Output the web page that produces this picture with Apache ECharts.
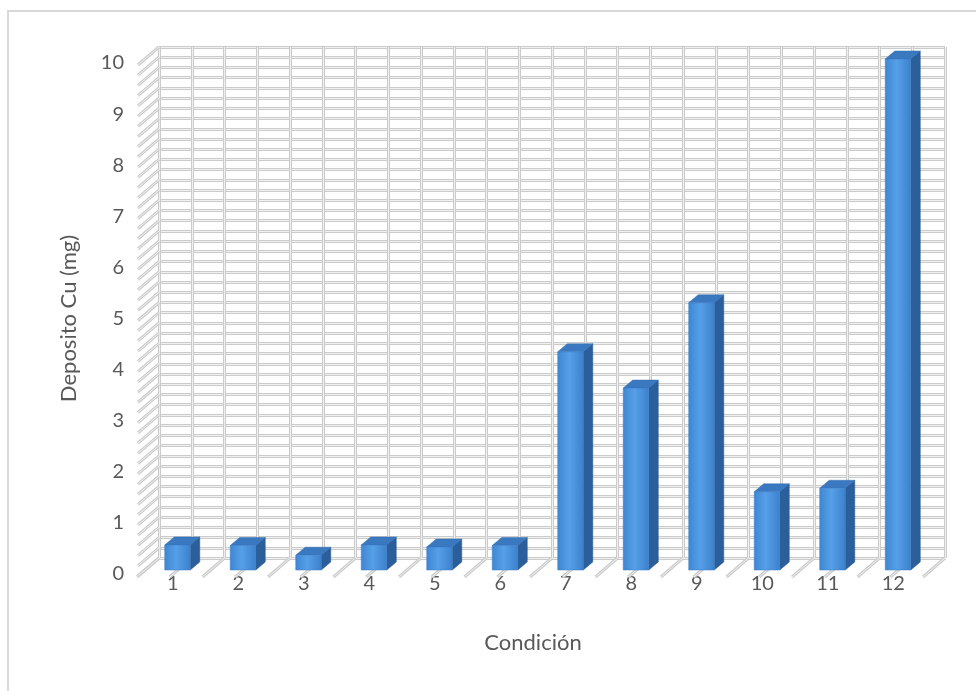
<!DOCTYPE html>
<html>
<head>
<meta charset="utf-8">
<script src="https://cdn.jsdelivr.net/npm/echarts@6/dist/echarts.min.js"></script>
<style>
  html, body { margin: 0; padding: 0; background: #ffffff; }
  #chart { width: 976px; height: 691px; }
</style>
</head>
<body>
<div id="chart"></div>
<script>
// Copper deposit per test condition
const categories = ['1', '2', '3', '4', '5', '6', '7', '8', '9', '10', '11', '12'];
const deposito = [0.49, 0.48, 0.29, 0.49, 0.45, 0.48, 4.27, 3.56, 5.23, 1.53, 1.60, 10.0];
const xAxisTitle = 'Condición';
const yAxisTitle = 'Deposito Cu (mg)';

// Depth of the 3D box in pixels (front plane -> back wall)
const DX = 19, DY = -16;
const FONT = 'Lato, "Liberation Sans", sans-serif';
const TEXT = '#595959';

const chart = echarts.init(document.getElementById('chart'), null, { renderer: 'canvas' });

// Gridline levels on the side wall follow the minor step of the value axis
const minorStep = 0.2;
const wallLevels = [];
for (let k = 0; k <= 50; k++) wallLevels.push([0, +(k * minorStep).toFixed(1)]);
const floorSteps = [];
for (let k = 0; k <= 24; k++) floorSteps.push([k, 0]);

function lineShape(x1, y1, x2, y2, w, c) {
  return { type: 'line', shape: { x1, y1, x2, y2 }, style: { stroke: c, lineWidth: w } };
}

const option = {
  backgroundColor: '#ffffff',
  animation: false,
  grid: [
    { left: 140, top: 63, width: 786, height: 511 },   // front plane
    { left: 159, top: 47, width: 786, height: 511 },   // back wall (double line, outer)
    { left: 159, top: 47, width: 786, height: 511 }    // back wall (double line, inner)
  ],
  xAxis: [
    {
      gridIndex: 0, type: 'category', data: categories,
      axisLine: { show: false }, axisTick: { show: false }, splitLine: { show: false },
      axisLabel: { color: TEXT, fontFamily: FONT, fontSize: 20, margin: 0 },
      name: xAxisTitle, nameLocation: 'middle', nameGap: 58,
      nameTextStyle: { color: TEXT, fontFamily: FONT, fontSize: 22 }
    },
    {
      gridIndex: 1, type: 'value', min: 0, max: 24, interval: 1,
      axisLine: { show: false }, axisTick: { show: false }, axisLabel: { show: false },
      splitLine: { show: true, lineStyle: { color: '#cbcbcb', width: 3 } }
    },
    {
      gridIndex: 2, type: 'value', min: 0, max: 24, interval: 1,
      axisLine: { show: false }, axisTick: { show: false }, axisLabel: { show: false },
      splitLine: { show: true, lineStyle: { color: '#f0f0f0', width: 1 } }
    }
  ],
  yAxis: [
    {
      gridIndex: 0, type: 'value', min: 0, max: 10, interval: 1,
      axisLine: { show: false }, axisTick: { show: false }, splitLine: { show: false },
      axisLabel: { color: TEXT, fontFamily: FONT, fontSize: 20, margin: 16 },
      name: yAxisTitle, nameLocation: 'middle', nameGap: 60, nameRotate: 90,
      nameTextStyle: { color: TEXT, fontFamily: FONT, fontSize: 22 }
    },
    {
      gridIndex: 1, type: 'value', min: 0, max: 10, interval: minorStep,
      axisLine: { show: false }, axisTick: { show: false }, axisLabel: { show: false },
      splitLine: { show: true, lineStyle: { color: '#cbcbcb', width: 3 } }
    },
    {
      gridIndex: 2, type: 'value', min: 0, max: 10, interval: minorStep,
      axisLine: { show: false }, axisTick: { show: false }, axisLabel: { show: false },
      splitLine: { show: true, lineStyle: { color: '#f0f0f0', width: 1 } }
    }
  ],
  graphic: [
    {
      type: 'polyline', silent: true,
      shape: { points: [[8, 700], [8, 11], [990, 11]] },
      style: { stroke: '#d9d9d9', lineWidth: 2, fill: null }
    }
  ],
  series: [
    {
      // side wall hatch
      type: 'custom', xAxisIndex: 0, yAxisIndex: 0, clip: false, z: 1,
      data: wallLevels,
      renderItem: function (params, api) {
        const cs = params.coordSys;
        const y = api.coord([0, api.value(1)])[1];
        const x0 = cs.x - 2;
        return {
          type: 'group',
          children: [
            lineShape(x0, y + 2, x0 + DX + 2, y + DY, 3, '#cbcbcb'),
            lineShape(x0, y + 2, x0 + DX + 2, y + DY, 1, '#f0f0f0')
          ]
        };
      }
    },
    {
      // floor lines
      type: 'custom', xAxisIndex: 0, yAxisIndex: 0, clip: false, z: 1,
      data: floorSteps,
      renderItem: function (params, api) {
        const cs = params.coordSys;
        const x = cs.x + cs.width * api.value(0) / 24 - 3;
        const y = cs.y + cs.height + 3;
        return {
          type: 'group',
          children: [
            lineShape(x, y, x + DX + 3, y + DY - 3, 3, '#cbcbcb'),
            lineShape(x, y, x + DX + 3, y + DY - 3, 1, '#f0f0f0')
          ]
        };
      }
    },
    {
      // 3D columns
      type: 'custom', xAxisIndex: 0, yAxisIndex: 0, clip: false, z: 5,
      data: categories.map((c, i) => [i, deposito[i]]),
      renderItem: function (params, api) {
        const i = api.value(0), v = api.value(1);
        const base = api.coord([i, 0]);
        const top = api.coord([i, v]);
        const band = api.size([1, 0])[0];
        const w = band * 0.39;
        const fx = base[0] + DX * 0.25 - w / 2;
        const fy0 = base[1] + DY * 0.25;
        const fy1 = top[1] + DY * 0.25;
        const dx = DX * 0.5, dy = DY * 0.5;
        const frontFill = new echarts.graphic.LinearGradient(0, 0, 1, 0, [
          { offset: 0, color: '#3f86d2' },
          { offset: 0.45, color: '#56a0e8' },
          { offset: 1, color: '#3c80cc' }
        ]);
        return {
          type: 'group',
          children: [
            {
              type: 'polygon',
              shape: { points: [[fx + w, fy0], [fx + w, fy1], [fx + w + dx, fy1 + dy], [fx + w + dx, fy0 + dy]] },
              style: { fill: '#2b5f9c', stroke: '#24548c', lineWidth: 0.5 }
            },
            {
              type: 'polygon',
              shape: { points: [[fx, fy1], [fx + w, fy1], [fx + w + dx, fy1 + dy], [fx + dx, fy1 + dy]] },
              style: { fill: '#3a78c0', stroke: '#336dae', lineWidth: 0.5 }
            },
            {
              type: 'rect',
              shape: { x: fx, y: fy1, width: w, height: fy0 - fy1 },
              style: { fill: frontFill, stroke: '#3a7bc4', lineWidth: 0.5 }
            }
          ]
        };
      }
    }
  ]
};

chart.setOption(option);
</script>
</body>
</html>
